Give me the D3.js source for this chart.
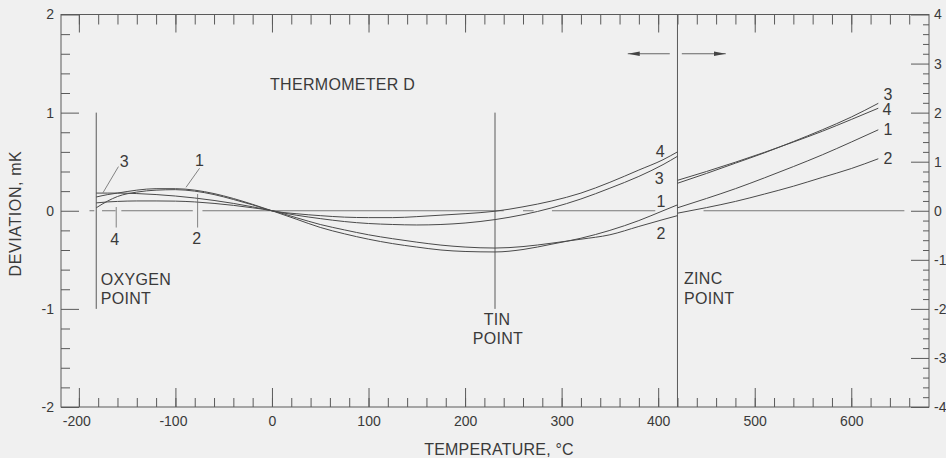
<!DOCTYPE html>
<html><head><meta charset="utf-8">
<script src="https://cdn.jsdelivr.net/npm/d3@7"></script>
<style>
html,body{margin:0;padding:0;background:#f0f0f0;}
svg{display:block;font-family:"Liberation Sans",Arial,Helvetica,sans-serif;}
</style></head><body>
<svg id="chart" width="946" height="458"></svg>
<script>
// ---------- data ----------
// left segment (oxygen point to zinc point), deviation in mK (left axis)
const tempLeft   = [-182,-170,-160,-140,-120,-100,-80,-60,-40,-20,0,25,50,75,100,125,150,175,200,231,260,290,320,350,380,405,420];
const curve1Left = [0.14,0.165,0.18,0.21,0.225,0.225,0.21,0.175,0.125,0.065,0,-0.085,-0.17,-0.235,-0.29,-0.335,-0.37,-0.40,-0.415,-0.42,-0.395,-0.34,-0.28,-0.2,-0.1,0.0,0.06];
const curve2Left = [0.08,0.09,0.095,0.1,0.1,0.098,0.09,0.075,0.055,0.03,0,-0.07,-0.14,-0.195,-0.245,-0.285,-0.32,-0.35,-0.37,-0.38,-0.365,-0.33,-0.29,-0.245,-0.16,-0.09,-0.05];
const curve3Left = [0.18,0.18,0.18,0.175,0.165,0.15,0.13,0.105,0.075,0.04,0,-0.045,-0.08,-0.11,-0.13,-0.14,-0.145,-0.14,-0.125,-0.09,-0.04,0.03,0.12,0.23,0.35,0.47,0.555];
const curve4Left = [0.03,0.1,0.145,0.19,0.21,0.215,0.2,0.165,0.115,0.06,0,-0.03,-0.05,-0.065,-0.07,-0.07,-0.06,-0.045,-0.03,-0.005,0.04,0.1,0.18,0.29,0.415,0.52,0.6];
// right segment (above zinc point), deviation in right-axis units
const tempRight   = [420,450,480,510,540,570,600,628];
const curve1Right = [0.06,0.25,0.45,0.67,0.90,1.14,1.40,1.65];
const curve2Right = [-0.05,0.064,0.19,0.34,0.50,0.68,0.86,1.06];
const curve3Right = [0.56,0.76,0.97,1.18,1.41,1.65,1.91,2.19];
const curve4Right = [0.62,0.80,0.99,1.19,1.40,1.62,1.86,2.09];
const curveNames  = ["1","2","3","4"];

// axes
const xMajorTicks = [-200,-100,0,100,200,300,400,500,600];
const xMinorTicks = [-200,-180,-160,-140,-120,-100,-80,-60,-40,-20,0,20,40,60,80,100,120,140,160,180,200,220,240,260,280,300,320,340,360,380,400,420,440,460,480,500,520,540,560,580,600,620,640,660];
const leftMajorTicks = [-2,-1,0,1,2];
const leftMinorTicks = [-1.8,-1.6,-1.4,-1.2,-0.8,-0.6,-0.4,-0.2,0.2,0.4,0.6,0.8,1.2,1.4,1.6,1.8];
const rightMajorTicks = [-4,-3,-2,-1,0,1,2,3,4];
const rightMinorTicks = [-3.8,-3.6,-3.4,-3.2,-2.8,-2.6,-2.4,-2.2,-1.8,-1.6,-1.4,-1.2,-0.8,-0.6,-0.4,-0.2,0.2,0.4,0.6,0.8,1.2,1.4,1.6,1.8,2.2,2.4,2.6,2.8,3.2,3.4,3.6,3.8];

// fixed points
const oxygenPoint = -182, tinPoint = 231, zincPoint = 420;
// zero-line pieces (°C)
const zeroSegments = [[-189,-184],[-176,-162],[-156,-82],[-72,240],[260,271],[290,397],[447,655]];

// ---------- drawing ----------
const W = 946, H = 458;
const X0 = 61, X1 = 929, Y0 = 14.5, Y1 = 407;
const ink = "#3a3a3a", lineCol = "#5a5a5a";
const svg = d3.select("#chart");
svg.append("rect").attr("width",W).attr("height",H).attr("fill","#f0f0f0");

const x  = d3.scaleLinear().domain([-218.5, 680.5]).range([X0, X1]);
const yL = d3.scaleLinear().domain([-2, 2]).range([Y1, Y0]);
const yR = d3.scaleLinear().domain([-4, 4]).range([Y1, Y0]);

// frame
svg.append("rect").attr("x",X0).attr("y",Y0).attr("width",X1-X0).attr("height",Y1-Y0)
  .attr("fill","none").attr("stroke",lineCol).attr("stroke-width",1);

function styleAxis(g){
  g.select(".domain").remove();
  g.attr("color",lineCol);
  g.selectAll("text").attr("fill",ink).attr("font-size",14)
    .attr("font-family","'Liberation Sans',Arial,Helvetica,sans-serif");
}
const fmt = d => String(d);

// bottom
svg.append("g").attr("transform",`translate(0,${Y1})`)
  .call(d3.axisBottom(x).tickValues(xMinorTicks).tickSize(-9).tickSizeOuter(0).tickFormat(""))
  .call(styleAxis);
svg.append("g").attr("transform",`translate(0,${Y1})`)
  .call(d3.axisBottom(x).tickValues(xMajorTicks).tickSize(-19).tickSizeOuter(0).tickPadding(9).tickFormat(fmt))
  .call(styleAxis)
  .call(g => g.selectAll("text").attr("dx", d => d < 0 ? -2.5 : 0));
// top
svg.append("g").attr("transform",`translate(0,${Y0})`)
  .call(d3.axisTop(x).tickValues(xMinorTicks).tickSize(-10).tickSizeOuter(0).tickFormat(""))
  .call(styleAxis);
svg.append("g").attr("transform",`translate(0,${Y0})`)
  .call(d3.axisTop(x).tickValues(xMajorTicks).tickSize(-18).tickSizeOuter(0).tickFormat(""))
  .call(styleAxis);
// left
svg.append("g").attr("transform",`translate(${X0},0)`)
  .call(d3.axisLeft(yL).tickValues(leftMinorTicks).tickSize(-9).tickSizeOuter(0).tickFormat(""))
  .call(styleAxis);
svg.append("g").attr("transform",`translate(${X0},0)`)
  .call(d3.axisLeft(yL).tickValues(leftMajorTicks).tickSize(-18).tickSizeOuter(0).tickPadding(7).tickFormat(fmt))
  .call(styleAxis);
// right
svg.append("g").attr("transform",`translate(${X1},0)`)
  .call(d3.axisRight(yR).tickValues(rightMinorTicks).tickSize(-6).tickSizeOuter(0).tickFormat(""))
  .call(styleAxis);
svg.append("g").attr("transform",`translate(${X1},0)`)
  .call(d3.axisRight(yR).tickValues(rightMajorTicks).tickSize(-18).tickSizeOuter(0).tickPadding(5).tickFormat(fmt))
  .call(styleAxis);

// zero line
svg.append("g").selectAll("line").data(zeroSegments).join("line")
  .attr("x1",d=>x(d[0])).attr("x2",d=>x(d[1]))
  .attr("y1",yL(0)).attr("y2",yL(0))
  .attr("stroke","#777").attr("stroke-width",1);

// fixed-point verticals
const vlines = [[oxygenPoint,1,-1],[tinPoint,1,-1],[zincPoint,2,-2]];
svg.append("g").selectAll("line").data(vlines).join("line")
  .attr("x1",d=>x(d[0])).attr("x2",d=>x(d[0]))
  .attr("y1",d=>yL(d[1])).attr("y2",d=>yL(d[2]))
  .attr("stroke",lineCol).attr("stroke-width",1);

// curves
const lineL = d3.line().x(d=>x(d[0])).y(d=>yL(d[1])).curve(d3.curveMonotoneX);
const lineR = d3.line().x(d=>x(d[0])).y(d=>yR(d[1])).curve(d3.curveMonotoneX);
const leftSeries  = [curve1Left,curve2Left,curve3Left,curve4Left].map(v => tempLeft.map((t,i)=>[t,v[i]]));
const rightSeries = [curve1Right,curve2Right,curve3Right,curve4Right].map(v => tempRight.map((t,i)=>[t,v[i]]));
svg.append("g").selectAll("path").data(leftSeries).join("path")
  .attr("d",lineL).attr("fill","none").attr("stroke","#4a4a4a").attr("stroke-width",1);
svg.append("g").selectAll("path").data(rightSeries).join("path")
  .attr("d",lineR).attr("fill","none").attr("stroke","#4a4a4a").attr("stroke-width",1);

// leader lines for left labels (°C, mK)
const leaders = [[-159,0.45,-175,0.184],[-75,0.433,-89,0.239],[-161.3,0.038,-161.3,-0.171],[-77,0.17,-77,-0.171]];
svg.append("g").selectAll("line").data(leaders).join("line")
  .attr("x1",d=>x(d[0])).attr("y1",d=>yL(d[1])).attr("x2",d=>x(d[2])).attr("y2",d=>yL(d[3]))
  .attr("stroke","#666").attr("stroke-width",0.8);

// curve labels [name, °C, value, axis]
const curveLabels = [
  ["3",-153,0.505,"L"],["1",-75,0.515,"L"],["4",-163,-0.29,"L"],["2",-78,-0.28,"L"],
  ["4",402,0.61,"L"],["3",401,0.33,"L"],["1",403,0.1,"L"],["2",403,-0.23,"L"],
  ["3",638,2.38,"R"],["4",637,2.06,"R"],["1",638,1.67,"R"],["2",638,1.08,"R"]
];
svg.append("g").selectAll("text").data(curveLabels).join("text")
  .attr("x",d=>x(d[1])).attr("y",d=>(d[3]==="L"?yL:yR)(d[2]))
  .attr("dy","0.36em").attr("text-anchor","middle")
  .attr("font-size",16).attr("fill",ink).text(d=>d[0]);

// arrows around the zinc point
const defs = svg.append("defs");
defs.append("marker").attr("id","ah").attr("viewBox","0 0 12 6").attr("refX",12).attr("refY",3)
  .attr("markerWidth",12).attr("markerHeight",6).attr("markerUnits","userSpaceOnUse").attr("orient","auto")
  .append("path").attr("d","M0,0.8L12,3L0,5.2Z").attr("fill","#444");
const arrows = [[412,368.5],[424.5,470]];
svg.append("g").selectAll("line").data(arrows).join("line")
  .attr("x1",d=>x(d[0])).attr("x2",d=>x(d[1])).attr("y1",yL(1.6)).attr("y2",yL(1.6))
  .attr("stroke","#666").attr("stroke-width",1).attr("marker-end","url(#ah)");

// annotations
const ann = svg.append("g").attr("fill",ink).attr("font-size",16);
ann.append("text").attr("x",270).attr("y",90).attr("letter-spacing",0.3).text("THERMOMETER D");
ann.append("text").attr("x",x(oxygenPoint)+4.5).attr("y",285).attr("letter-spacing",0.3).text("OXYGEN");
ann.append("text").attr("x",x(oxygenPoint)+4.5).attr("y",303.5).attr("letter-spacing",0.3).text("POINT");
ann.append("text").attr("x",x(tinPoint)+2).attr("y",325).attr("text-anchor","middle").attr("letter-spacing",0.3).text("TIN");
ann.append("text").attr("x",x(tinPoint)+3).attr("y",344).attr("text-anchor","middle").attr("letter-spacing",0.3).text("POINT");
ann.append("text").attr("x",x(zincPoint)+6.5).attr("y",283.5).attr("letter-spacing",0.3).text("ZINC");
ann.append("text").attr("x",x(zincPoint)+6.5).attr("y",303.5).attr("letter-spacing",0.3).text("POINT");

// axis titles
svg.append("text").attr("x",499).attr("y",455).attr("text-anchor","middle")
  .attr("font-size",16).attr("fill",ink).attr("letter-spacing",0.2).text("TEMPERATURE, °C");
svg.append("text").attr("transform","translate(20.5,213.5) rotate(-90)").attr("text-anchor","middle")
  .attr("font-size",16).attr("fill",ink).attr("letter-spacing",0.6).text("DEVIATION, mK");
</script>
</body></html>
